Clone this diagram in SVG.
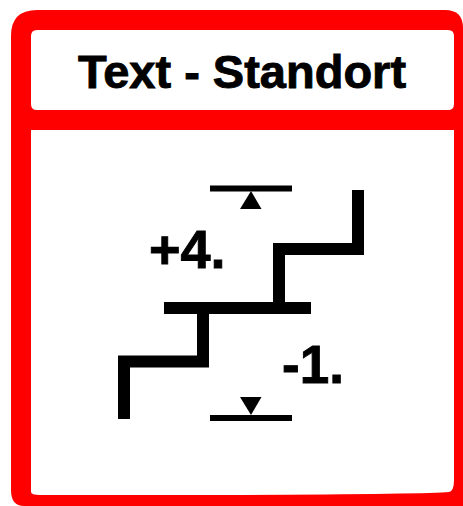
<svg xmlns="http://www.w3.org/2000/svg" width="463" height="506" viewBox="0 0 463 506">
<style>
.t{font-family:"Liberation Sans",Arial,sans-serif;font-weight:700;fill:#000;stroke:#000;stroke-width:.9}
.s{fill:none;stroke:#000;stroke-width:12}
.l{fill:none;stroke:#000;stroke-width:6}
</style>
<rect width="463" height="506" fill="#fff"/>
<g id="frame">
<path d="M11 36Q11 10 37 10H445Q463 10 463 28V506H24Q11 506 11 490Z" fill="#f00"/>
<path d="M31 36Q31 30 37 30H448Q454 30 454 36V104Q454 110 448 110H37Q31 110 31 104Z" fill="#fff"/>
<path d="M31 130H454V480Q454 491 449 492Q430 494 240 495L40 495Q31 495 31 492Z" fill="#fff"/>
</g>
<g id="title"><text class="t" x="242" y="88" font-size="47" text-anchor="middle">Text - Standort</text></g>
<g id="stairs">
<path class="s" d="M358 190V249H279V308"/>
<path class="s" d="M164 308H311"/>
<path class="s" d="M203 308V361.500H124V419"/>
</g>
<g id="upper-level">
<path class="l" d="M210 188.500H292"/>
<path d="M251 191L240 209H261.500Z"/>
<text class="t" x="149" y="268" font-size="54">+4.</text>
</g>
<g id="lower-level">
<path class="l" d="M210 418H292"/>
<path d="M251 415L240 397H261.500Z"/>
<text class="t" x="282" y="383" font-size="53">-1.</text>
</g>
</svg>
